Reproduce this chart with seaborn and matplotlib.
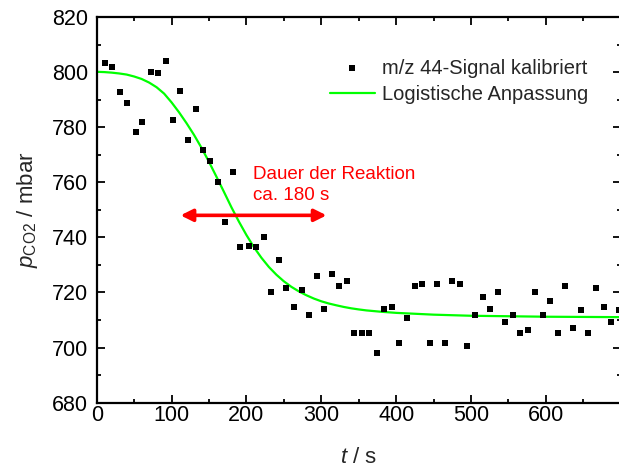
import matplotlib
matplotlib.use("Agg")
import matplotlib.pyplot as plt
import pandas as pd
import seaborn as sns
from matplotlib.ticker import MultipleLocator

t_signal = [11, 21, 31, 41, 52, 61, 72, 82, 92, 102,
            111, 122, 132, 142, 152, 162, 172, 182, 192, 203,
            213, 223, 233, 243, 253, 263, 274, 283, 294, 304,
            314, 324, 334, 344, 354, 364, 374, 384, 394, 404,
            414, 425, 435, 445, 455, 465, 475, 485, 495, 505,
            516, 525, 536, 546, 556, 566, 576, 586, 596, 606,
            616, 626, 636, 647, 656, 667, 677, 687, 697]
p_signal = [803.2, 802.0, 792.7, 788.8, 778.3, 781.8, 800.0, 799.7, 804.1, 782.6,
            793.2, 775.2, 786.5, 771.6, 767.7, 760.2, 745.5, 763.8, 736.4, 737.0,
            736.4, 740.3, 720.1, 731.9, 721.6, 714.8, 720.8, 711.9, 726.0, 713.9,
            726.8, 722.4, 724.1, 705.4, 705.4, 705.4, 697.9, 713.9, 714.7, 701.7,
            710.9, 722.4, 723.1, 701.7, 723.1, 701.7, 724.1, 723.1, 700.6, 711.9,
            718.5, 713.9, 720.1, 709.2, 711.9, 705.4, 706.3, 720.1, 711.9, 716.9,
            705.4, 722.4, 707.2, 713.5, 705.4, 721.5, 714.7, 709.2, 713.6]

# fitted logistic curve
t_fit = [0, 10, 20, 30, 40, 50, 60, 70, 80, 90,
         100, 110, 120, 130, 140, 150, 160, 170, 180, 190,
         200, 210, 220, 230, 240, 250, 260, 270, 280, 290,
         300, 310, 320, 330, 340, 350, 360, 380, 400, 450,
         500, 600, 700]
p_fit = [800.1, 800.0, 799.8, 799.5, 799.1, 798.4, 797.5, 796.2, 794.5, 792.2,
         789.0, 785.4, 781.45, 777.2, 772.5, 767.4, 762.0, 756.5, 750.9, 745.7,
         740.85, 736.45, 732.6, 729.25, 726.45, 724.05, 722.05, 720.4, 719.0, 717.8,
         716.8, 716.0, 715.35, 714.75, 714.25, 713.85, 713.5, 713.0, 712.6, 711.95,
         711.55, 711.2, 711.05]

arrow_from, arrow_to, arrow_level = 112, 307, 748
note_text = "Dauer der Reaktion\nca. 180 s"

sns.set_style("ticks")
plt.rcParams["font.family"] = ["Liberation Sans", "DejaVu Sans"]
plt.rcParams["mathtext.fontset"] = "custom"
plt.rcParams["mathtext.rm"] = "Liberation Sans"
plt.rcParams["mathtext.it"] = "Liberation Sans:italic"

signal = pd.DataFrame({"t": t_signal, "p": p_signal})
fit = pd.DataFrame({"t": t_fit, "p": p_fit})

fig = plt.figure(figsize=(6.19, 4.69), dpi=100)
ax = fig.add_axes([0.1562, 0.1414, 0.8467, 0.8224])

sns.scatterplot(data=signal, x="t", y="p", ax=ax, marker="s", s=24, color="black",
                linewidth=0, label="m/z 44-Signal kalibriert", zorder=3)
sns.lineplot(data=fit, x="t", y="p", ax=ax, color="#00ff00", lw=1.6,
             estimator=None, sort=False, label="Logistische Anpassung", zorder=2)

ax.annotate("", xy=(arrow_from, arrow_level), xytext=(arrow_to, arrow_level),
            arrowprops=dict(arrowstyle="<|-|>", color="red", lw=2.6,
                            mutation_scale=18, shrinkA=0, shrinkB=0), zorder=4)
ax.text(209, 759.0, note_text, color="red", fontsize=13.5, ha="left", va="center",
        linespacing=1.35)

ax.set_xlim(0, 700)
ax.set_ylim(680, 820)
ax.set_xticks(range(0, 601, 100))
ax.xaxis.set_minor_locator(MultipleLocator(50))
ax.yaxis.set_major_locator(MultipleLocator(20))
ax.yaxis.set_minor_locator(MultipleLocator(10))
ax.tick_params(which="both", direction="in", top=True, right=True, width=1.3,
               labelsize=15.5, colors="black")
ax.tick_params(which="major", length=5.5)
ax.tick_params(which="minor", length=3)
ax.tick_params(axis="x", pad=2)
ax.tick_params(axis="y", pad=6)
for side in ax.spines.values():
    side.set_visible(True)
    side.set_linewidth(1.6)
    side.set_color("black")

ax.set_xlabel("$t$ / s", fontsize=16, labelpad=15)
ax.set_ylabel("$p_{\\mathrm{CO2}}$ / mbar", fontsize=16, labelpad=9)

ax.legend(loc="upper left", bbox_to_anchor=(0.4456, 0.892), frameon=False,
          fontsize=14.5, handlelength=2.2, handletextpad=0.35, labelspacing=0.35,
          borderaxespad=0, borderpad=0, markerscale=1.0)

fig.savefig("out.png", dpi=100)
